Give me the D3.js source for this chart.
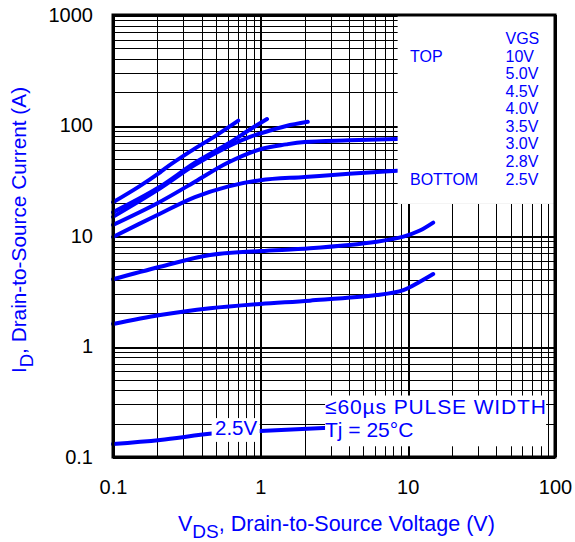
<!DOCTYPE html>
<meta charset="utf-8">
<html>
<style>
  body { margin: 0; background: #fff; }
  svg { font-family: "Liberation Sans", Arial, Helvetica, sans-serif; }
  .grid line { stroke: #000; shape-rendering: crispEdges; }
  .curve { fill: none; stroke: #0000ff; stroke-width: 4px; stroke-linecap: round; stroke-linejoin: round; }
  .blue { fill: #0000ff; }
  .axis text { font-size: 20px; fill: #000; }
</style>
<body>
<svg width="575" height="542"></svg>
<script src="https://d3js.org/d3.v7.min.js"></script>
<script>
// tick values / labels
var xTickValues = [0.1, 1, 10, 100];
var yTickValues = [0.1, 1, 10, 100, 1000];

// VGS curves (VDS in V, ID in A)
var vgsLabels = ["10V", "5.0V", "4.5V", "4.0V", "3.5V", "3.0V", "2.8V", "2.5V"];

var vds_10V  = [0.1, 0.15, 0.204, 0.226, 0.333, 0.5, 0.709];
var id_10V   = [20.2, 28, 36.9, 41, 58, 81, 110.5];

var vds_5V   = [0.1, 0.2, 0.36, 0.61, 0.85, 1.11];
var id_5V    = [16.4, 27, 46, 69, 92, 114.5];

var vds_45V  = [0.1, 0.2, 0.36, 0.61, 0.85, 1.2, 1.5, 2.1];
var id_45V   = [14.9, 26, 44, 65, 79, 91, 99, 108];

var vds_4V   = [0.1, 0.2, 0.36, 0.6, 1.0, 1.5, 2.0, 4.0, 8.5];
var id_4V    = [12.6, 19.8, 31, 46, 61, 67.5, 71, 73.5, 75.5];

var vds_35V  = [0.1, 0.2, 0.36, 0.6, 1.0, 2.0, 4.0, 8.5];
var id_35V   = [9.8, 15.5, 22.5, 28, 32, 34.2, 36.5, 39];

var vds_3V   = [0.1, 0.209, 0.456, 1.0, 2.17, 6.17, 9.35, 12.1, 14.9];
var id_3V    = [4.06, 5.27, 6.73, 7.31, 7.74, 8.88, 9.86, 11.2, 13.2];

var vds_28V  = [0.1, 0.209, 0.456, 1.0, 2.17, 6.17, 9.35, 12.1, 14.9];
var id_28V   = [1.6, 1.93, 2.22, 2.43, 2.6, 2.92, 3.24, 3.86, 4.53];

var vds_25V  = [0.1, 0.209, 0.493, 1.0, 2.67, 3.2];
var id_25V   = [0.131, 0.1426, 0.1638, 0.172, 0.183, 0.186];

var seriesVds = [vds_10V, vds_5V, vds_45V, vds_4V, vds_35V, vds_3V, vds_28V, vds_25V];
var seriesId  = [id_10V, id_5V, id_45V, id_4V, id_35V, id_3V, id_28V, id_25V];

var svg = d3.select("svg"),
    margin = {top: 15, right: 20, bottom: 85, left: 113},
    width = +svg.attr("width") - margin.left - margin.right,
    height = +svg.attr("height") - margin.top - margin.bottom,
    g = svg.append("g").attr("transform", "translate(" + margin.left + "," + margin.top + ")");

var x = d3.scaleLog().domain([0.1, 100]).range([0, width]);
var y = d3.scaleLog().domain([0.1, 1000]).range([height, 0]);

function isMajor(v) {
  var l = Math.log10(v);
  return Math.abs(l - Math.round(l)) < 1e-6;
}

// grid
var grid = g.append("g").attr("class", "grid");
grid.selectAll(".vx").data(x.ticks()).enter().append("line")
    .attr("x1", function(d) { return Math.round(x(d)) + 0.5; })
    .attr("x2", function(d) { return Math.round(x(d)) + 0.5; })
    .attr("y1", 0).attr("y2", height)
    .style("stroke-width", function(d) { return isMajor(d) ? 2 : 1; });
grid.selectAll(".hy").data(y.ticks()).enter().append("line")
    .attr("y1", function(d) { return Math.round(y(d)) + 0.5; })
    .attr("y2", function(d) { return Math.round(y(d)) + 0.5; })
    .attr("x1", 0).attr("x2", width)
    .style("stroke-width", function(d) { return isMajor(d) ? 2 : 1; });

// curves
var line = d3.line()
    .x(function(d) { return x(d[0]); })
    .y(function(d) { return y(d[1]); })
    .curve(d3.curveCatmullRom.alpha(0.5));

seriesVds.forEach(function(vs, i) {
  var pts = vs.map(function(v, j) { return [v, seriesId[i][j]]; });
  g.append("path").datum(pts).attr("class", "curve").attr("d", line);
});

// legend box (covers grid at upper right)
g.append("rect")
    .attr("x", x(8.55)).attr("y", 0)
    .attr("width", width - x(8.55)).attr("height", y(19.5))
    .attr("fill", "#fff");

// pulse width note box
g.append("rect")
    .attr("x", x(2.75)).attr("y", y(0.36))
    .attr("width", x(87) - x(2.75)).attr("height", y(0.125) - y(0.36))
    .attr("fill", "#fff");

// 2.5V label box
g.append("rect")
    .attr("x", x(0.467)).attr("y", y(0.225))
    .attr("width", x(0.99) - x(0.467)).attr("height", y(0.137) - y(0.225))
    .attr("fill", "#fff");

// frame
g.append("rect")
    .attr("x", 0).attr("y", 0).attr("width", width).attr("height", height)
    .attr("fill", "none").attr("stroke", "#000").attr("stroke-width", 3);

// axes (labels only)
g.append("g")
    .attr("class", "axis")
    .call(d3.axisLeft(y).tickValues(yTickValues).tickSize(0).tickPadding(20)
      .tickFormat(function(d) { return String(d); }))
    .call(function(s) { s.select(".domain").remove(); });

g.append("g")
    .attr("class", "axis")
    .attr("transform", "translate(0," + height + ")")
    .call(d3.axisBottom(x).tickValues(xTickValues).tickSize(0).tickPadding(23)
      .tickFormat(function(d) { return String(d); }))
    .call(function(s) { s.select(".domain").remove(); });
svg.selectAll(".axis").attr("font-family", null).attr("font-size", null);

// legend text
var legend = svg.append("g").attr("class", "blue").style("font-size", "16px");
legend.append("text").attr("x", 505.5).attr("y", 44).text("VGS");
vgsLabels.forEach(function(t, i) {
  legend.append("text").attr("x", 505.5).attr("y", 61.7 + i * 17.55).text(t);
});
legend.append("text").attr("x", 410).attr("y", 61.7).text("TOP");
legend.append("text").attr("x", 410).attr("y", 184.5).text("BOTTOM");

// notes
var note = svg.append("g").attr("class", "blue").style("font-size", "21px");
note.append("text").attr("x", 325).attr("y", 414)
    .attr("textLength", 221).attr("lengthAdjust", "spacing")
    .text("\u226460\u00b5s PULSE WIDTH");
note.append("text").attr("x", 325).attr("y", 436.5).text("Tj = 25\u00b0C");
note.append("text").attr("x", 215).attr("y", 434.5).style("font-size", "20.5px").text("2.5V");

// axis titles
var xt = svg.append("text").attr("class", "blue").attr("x", 178).attr("y", 531)
    .style("font-size", "21.5px");
xt.append("tspan").text("V");
xt.append("tspan").attr("dy", 7).style("font-size", "19px").text("DS");
xt.append("tspan").attr("dy", -7).text(", Drain-to-Source Voltage (V)");

var yt = svg.append("text").attr("class", "blue")
    .attr("transform", "translate(26,230) rotate(-90)")
    .attr("text-anchor", "middle")
    .style("font-size", "20.8px");
yt.append("tspan").text("I");
yt.append("tspan").attr("dy", 7).style("font-size", "18.5px").text("D");
yt.append("tspan").attr("dy", -7).text(", Drain-to-Source Current (A)");
</script>
</body>
</html>
